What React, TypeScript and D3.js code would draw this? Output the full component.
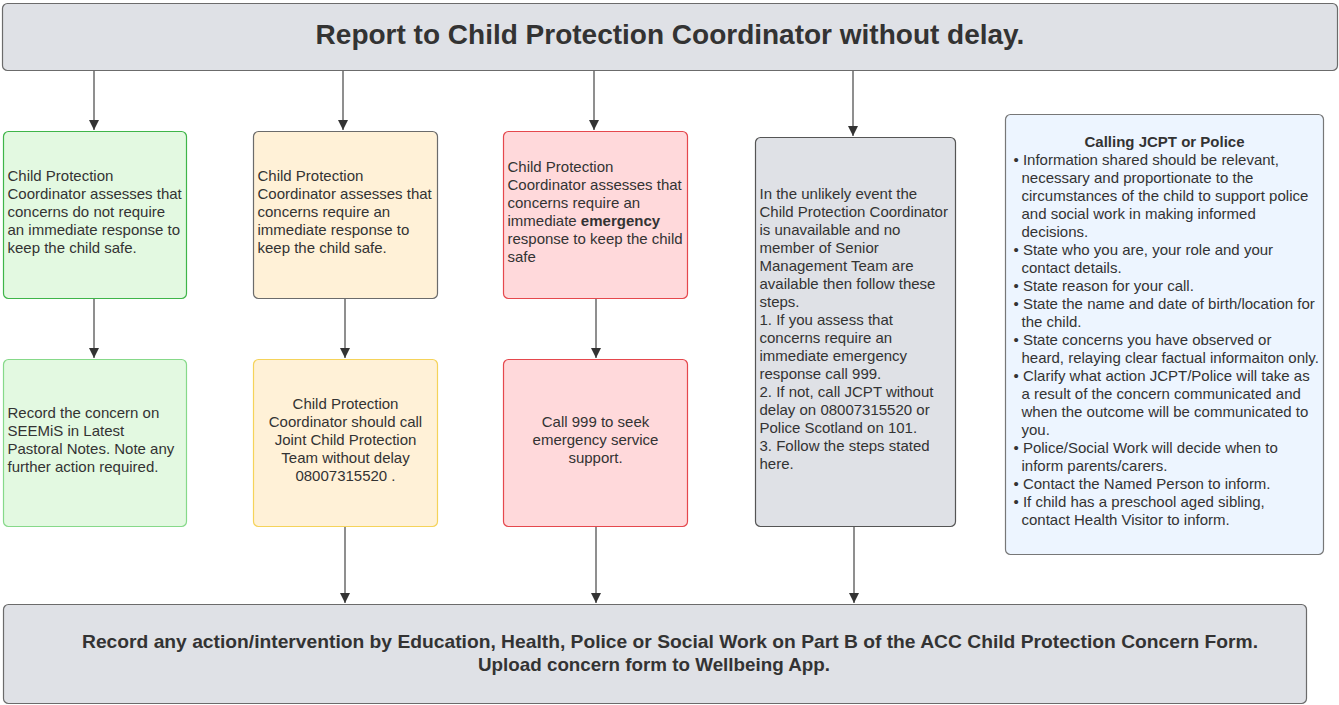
import * as d3 from 'd3';

type Seg = { t: string; b?: boolean };
type Line = Seg[] | string;

const title = 'Report to Child Protection Coordinator without delay.';
const footer = [
  'Record any action/intervention by Education, Health, Police or Social Work on Part B of the ACC Child Protection Concern Form.',
  'Upload concern form to Wellbeing App.',
];

const greenTop: Line[] = [
  'Child Protection',
  'Coordinator assesses that',
  'concerns do not require',
  'an immediate response to',
  'keep the child safe.',
];
const amberTop: Line[] = [
  'Child Protection',
  'Coordinator assesses that',
  'concerns require an',
  'immediate response to',
  'keep the child safe.',
];
const redTop: Line[] = [
  'Child Protection',
  'Coordinator assesses that',
  'concerns require an',
  [{ t: 'immediate ' }, { t: 'emergency', b: true }],
  'response to keep the child',
  'safe',
];
const greyText: Line[] = [
  'In the unlikely event the',
  'Child Protection Coordinator',
  'is unavailable and no',
  'member of Senior',
  'Management Team are',
  'available then follow these',
  'steps.',
  '1. If you assess that',
  'concerns require an',
  'immediate emergency',
  'response call 999.',
  '2. If not, call JCPT without',
  'delay on 08007315520 or',
  'Police Scotland on 101.',
  '3. Follow the steps stated',
  'here.',
];
const greenBottom: Line[] = [
  'Record the concern on',
  'SEEMiS in Latest',
  'Pastoral Notes. Note any',
  'further action required.',
];
const amberBottom: Line[] = [
  'Child Protection',
  'Coordinator should call',
  'Joint Child Protection',
  'Team without delay',
  '08007315520 .',
];
const redBottom: Line[] = ['Call 999 to seek', 'emergency service', 'support.'];

const calloutTitle = 'Calling JCPT or Police';
const calloutBullets: string[][] = [
  [
    'Information shared should be relevant,',
    'necessary and proportionate to the',
    'circumstances of the child to support police',
    'and social work in making informed',
    'decisions.',
  ],
  ['State who you are, your role and your', 'contact details.'],
  ['State reason for your call.'],
  ['State the name and date of birth/location for', 'the child.'],
  ['State concerns you have observed or', 'heard, relaying clear factual informaiton only.'],
  [
    'Clarify what action JCPT/Police will take as',
    'a result of the concern communicated and',
    'when the outcome will be communicated to',
    'you.',
  ],
  ['Police/Social Work will decide when to', 'inform parents/carers.'],
  ['Contact the Named Person to inform.'],
  ['If child has a preschool aged sibling,', 'contact Health Visitor to inform.'],
];

const W = 1339;
const H = 705;
const LH = 18;
const FS = 15;
const FONT = 'Liberation Sans, Arial, sans-serif';
const INK = '#333333';

type Box = { x: number; y: number; w: number; h: number; fill: string; stroke: string };

const box = (x0: number, y0: number, x1: number, y1: number, fill: string, stroke: string): Box => ({
  x: x0,
  y: y0,
  w: x1 - x0,
  h: y1 - y0,
  fill,
  stroke,
});

const GREEN = '#e3f9e1';
const AMBER = '#fff1d7';
const RED = '#ffd9db';
const GREY = '#dfe1e6';
const BLUE = '#edf5ff';

const boxes = {
  top: box(2.5, 3.5, 1337.5, 70.5, GREY, '#6b6b6b'),
  g1: box(3.5, 131.5, 186.5, 298.5, GREEN, '#3fb549'),
  a1: box(253.5, 131.5, 437.5, 298.5, AMBER, '#6b6b6b'),
  r1: box(503.5, 131.5, 687.5, 298.5, RED, '#e5484d'),
  grey: box(755.5, 137.5, 955.5, 526.5, GREY, '#555555'),
  blue: box(1005.5, 114.5, 1323.5, 554.5, BLUE, '#777777'),
  g2: box(3.5, 359.5, 186.5, 526.5, GREEN, '#86d989'),
  a2: box(253.5, 359.5, 437.5, 526.5, AMBER, '#f5d35a'),
  r2: box(503.5, 359.5, 687.5, 526.5, RED, '#e5484d'),
  bottom: box(3.5, 604.5, 1306.5, 703.5, GREY, '#6b6b6b'),
};

// connectors: [x, y from, y to]
const arrows: [number, number, number][] = [
  [94, 70, 131],
  [343, 70, 131],
  [594, 70, 131],
  [853, 70, 137],
  [94, 298, 359],
  [345, 298, 359],
  [596, 298, 359],
  [345, 526, 604],
  [596, 526, 604],
  [854, 526, 604],
];

function TextBlock({
  b,
  lines,
  align = 'left',
  pad = 4,
}: {
  b: Box;
  lines: Line[];
  align?: 'left' | 'middle';
  pad?: number;
}) {
  const cy = b.y + b.h / 2 - 3;
  const n = lines.length;
  const y0 = cy - ((n - 1) * LH) / 2;
  const yScale = d3.scaleLinear().domain([0, 1]).range([y0, y0 + LH]);
  const x = align === 'left' ? b.x + pad : b.x + b.w / 2;
  return (
    <g fontFamily={FONT} fontSize={FS} fill={INK} textAnchor={align === 'left' ? 'start' : 'middle'}>
      {lines.map((ln, i) => (
        <text key={i} x={x} y={yScale(i) + 5}>
          {typeof ln === 'string'
            ? ln
            : ln.map((s, j) => (
                <tspan key={j} fontWeight={s.b ? 'bold' : 'normal'}>
                  {s.t}
                </tspan>
              ))}
        </text>
      ))}
    </g>
  );
}

function Rect({ b, rx = 5 }: { b: Box; rx?: number }) {
  return <rect x={b.x} y={b.y} width={b.w} height={b.h} rx={rx} fill={b.fill} stroke={b.stroke} strokeWidth={1.2} />;
}

export default function App() {
  const line = d3.line<[number, number]>();
  const blue = boxes.blue;
  const calloutLines: { t: string; bullet: boolean }[] = calloutBullets.flatMap((bl) =>
    bl.map((t, i) => ({ t, bullet: i === 0 })),
  );
  const nCallout = calloutLines.length + 1;
  const cy = blue.y + blue.h / 2 - 4;
  const first = cy - ((nCallout - 1) * LH) / 2;

  return (
    <div style={{ position: 'absolute', left: 0, top: 0 }}>
      <svg width={W} height={H} viewBox={`0 0 ${W} ${H}`} style={{ display: 'block', background: '#fff' }}>
        <defs>
          <marker id="arr" viewBox="0 0 10 12" refX={10} refY={6} markerWidth={10} markerHeight={12} orient="auto" markerUnits="userSpaceOnUse">
            <path d="M0,1 L10,6 L0,11 Z" fill="#333" />
          </marker>
        </defs>

        {arrows.map(([x, y0, y1], i) => (
          <path
            key={i}
            d={line([
              [x, y0],
              [x, y1 - 1],
            ]) ?? ''}
            stroke="#333"
            strokeWidth={1.1}
            fill="none"
            markerEnd="url(#arr)"
          />
        ))}

        {Object.values(boxes).map((b, i) => (
          <Rect key={i} b={b} />
        ))}

        <text
          x={boxes.top.x + boxes.top.w / 2}
          y={44}
          textAnchor="middle"
          fontFamily={FONT}
          fontWeight="bold"
          fontSize={28}
          fill={INK}
        >
          {title}
        </text>

        <TextBlock b={boxes.g1} lines={greenTop} />
        <TextBlock b={boxes.a1} lines={amberTop} />
        <TextBlock b={boxes.r1} lines={redTop} />
        <TextBlock b={boxes.grey} lines={greyText} />
        <TextBlock b={boxes.g2} lines={greenBottom} />
        <TextBlock b={boxes.a2} lines={amberBottom} align="middle" />
        <TextBlock b={boxes.r2} lines={redBottom} align="middle" />

        <g fontFamily={FONT} fontSize={FS} fill={INK}>
          <text x={blue.x + blue.w / 2} y={first + 5} textAnchor="middle" fontWeight="bold">
            {calloutTitle}
          </text>
          {calloutLines.map((l, i) => (
            <text key={i} x={l.bullet ? blue.x + 8 : blue.x + 16} y={first + (i + 1) * LH + 5}>
              {l.bullet ? `\u2022 ${l.t}` : l.t}
            </text>
          ))}
        </g>

        <g fontFamily={FONT} fontWeight="bold" fontSize={19} fill={INK} textAnchor="middle">
          <text x={670} y={648} textLength={1176} lengthAdjust="spacingAndGlyphs">
            {footer[0]}
          </text>
          <text x={654} y={671} textLength={352} lengthAdjust="spacingAndGlyphs">
            {footer[1]}
          </text>
        </g>
      </svg>
    </div>
  );
}
